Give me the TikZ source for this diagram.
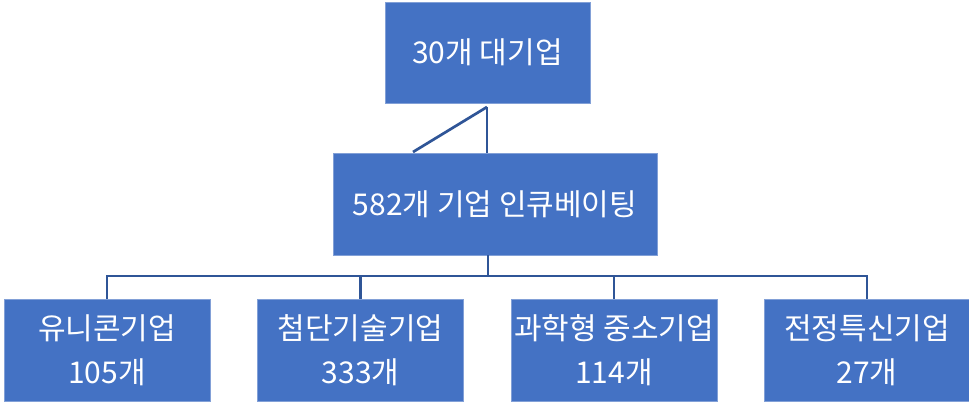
\documentclass[tikz,border=0pt]{standalone}
\usepackage{fontspec}
\newfontfamily\kr{Noto Sans CJK KR}
\begin{document}
\begin{tikzpicture}[x=1pt,y=-1pt,
  boxstyle/.style={draw={rgb,255:red,130;green,160;blue,215}, line width=0.5pt, fill={rgb,255:red,68;green,114;blue,196}, text=white, font=\kr\fontsize{30}{44}\selectfont, align=center, inner sep=0pt, anchor=center},
  conn/.style={draw={rgb,255:red,47;green,85;blue,151}, line width=2.7pt}]
\useasboundingbox (0,0) rectangle (969,403);
\node[boxstyle, minimum width=205pt, minimum height=101pt] (top) at (487.5,52.5) {30개 대기업};
\node[boxstyle, minimum width=324pt, minimum height=102pt] (mid) at (495,204) {582개 기업 인큐베이팅};
\node[boxstyle, minimum width=206pt, minimum height=102pt] (b1) at (107,350) {유니콘기업\\105개};
\node[boxstyle, minimum width=206pt, minimum height=102pt] (b2) at (360.5,350) {첨단기술기업\\333개};
\node[boxstyle, minimum width=206pt, minimum height=102pt] (b3) at (614,350) {과학형 중소기업\\114개};
\node[boxstyle, minimum width=206pt, minimum height=102pt] (b4) at (867,350) {전정특신기업\\27개};
\coordinate (j) at (487,107);
\coordinate (d) at (413,152);
\coordinate (bus) at (488,276);
\draw[conn] (j) -- (j |- mid.north);
\draw[conn] (j) -- (d);
\draw[conn] (mid.south -| bus) -- (bus);
\draw[conn] (b1.north) -- (b1.north |- bus) -- (b4.north |- bus) -- (b4.north);
\draw[conn] (b2.north) -- (b2.north |- bus);
\draw[conn] (b3.north) -- (b3.north |- bus);
\end{tikzpicture}
\end{document}
